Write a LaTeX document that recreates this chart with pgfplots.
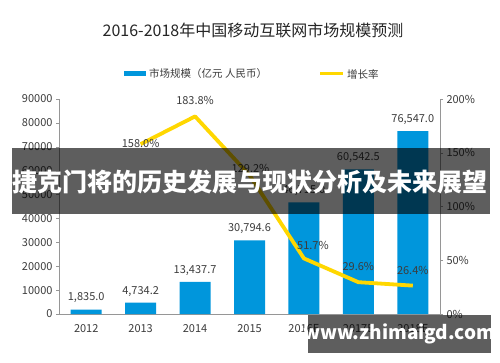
\documentclass[border=0pt]{standalone}
\usepackage{fontspec}
\setmainfont{Noto Sans CJK SC}
\usepackage{pgfplots}
\pgfplotsset{compat=1.18}
\definecolor{barblue}{RGB}{0,150,220}
\definecolor{lineyellow}{RGB}{255,215,0}
\definecolor{axgray}{RGB}{150,150,150}
\definecolor{txt}{RGB}{60,60,60}
\pgfplotsset{/pgf/number format/assume math mode=true}
\begin{document}
\begin{tikzpicture}[x=1pt,y=1pt]
\useasboundingbox (0,0) rectangle (500,362);
\fill[white] (0,0) rectangle (500,362);
% title
\node[text=black!85, font=\fontsize{16}{16}\selectfont] at (253,332) {2016-2018年中国移动互联网市场规模预测};
% legend
\fill[barblue] (124,285.5) rectangle (146,290.5);
\node[anchor=west, text=txt, font=\fontsize{10.5}{10.5}\selectfont, inner sep=0pt] at (149,288) {市场规模（亿元 人民币）};
\draw[lineyellow, line width=3pt] (320,288) -- (343,288);
\node[anchor=west, text=txt, font=\fontsize{10.5}{10.5}\selectfont, inner sep=0pt] at (347,288) {增长率};
\begin{axis}[
  at={(59pt,48pt)}, anchor=south west, scale only axis,
  width=381pt, height=215pt,
  xmin=-0.5, xmax=6.5, ymin=0, ymax=90000,
  axis y line*=left, axis x line*=bottom,
  axis line style={axgray},
  xtick={0,...,6},
  xticklabels={2012,2013,2014,2015,2016E,2017E,2018E},
  xtick style={draw=none},
  ytick={0,10000,...,90000},
  scaled y ticks=false,
  yticklabel style={/pgf/number format/1000 sep={}},
  ytick style={axgray},
  major tick length=3pt, tick align=outside,
  tick label style={text=txt, font=\fontsize{11}{11}\selectfont},
  xticklabel style={yshift=-4pt},
  clip=false,
]
\addplot[ybar, bar width=31pt, fill=barblue, draw=none,
  nodes near coords={\pgfmathprintnumber[fixed,fixed zerofill,precision=1,1000 sep={,}]{\pgfplotspointmeta}},
  nodes near coords style={text=txt, font=\fontsize{11}{11}\selectfont, anchor=south, yshift=3pt}]
coordinates {(0,1835.0) (1,4734.2) (2,13437.7) (3,30794.6) (4,46715.0) (5,60542.5) (6,76547.0)};
\end{axis}
\begin{axis}[
  at={(59pt,48pt)}, anchor=south west, scale only axis,
  width=381pt, height=215pt,
  xmin=-0.5, xmax=6.5, ymin=0, ymax=200,
  axis y line*=right, axis x line=none,
  axis line style={axgray},
  ytick={0,50,...,200},
  yticklabel={\pgfmathprintnumber{\tick}\%},
  ytick style={axgray},
  major tick length=3pt, tick align=outside,
  tick label style={text=txt, font=\fontsize{11}{11}\selectfont},
  clip=false,
]
\addplot[lineyellow, line width=3.8pt, line join=round] coordinates {(1,158.0) (2,183.8) (3,129.2) (4,51.7) (5,29.6) (6,26.4)};
\path[text=txt, font=\fontsize{11}{11}\selectfont]
  (axis cs:1,158.0) node[yshift=1pt] {158.0\%}
  (axis cs:2,183.8) node[yshift=16pt] {183.8\%}
  (axis cs:3,129.2) node[yshift=7pt, xshift=1pt] {129.2\%}
  (axis cs:4,51.7) node[yshift=13pt, xshift=9pt] {51.7\%}
  (axis cs:5,29.6) node[yshift=16pt] {29.6\%}
  (axis cs:6,26.4) node[yshift=15pt] {26.4\%};
\end{axis}
% overlay banner
\fill[black, opacity=0.63] (12,148) rectangle (490,214);
\node[text=white, font=\fontsize{25}{25}\selectfont\bfseries] at (250,180) {捷克门将的历史发展与现状分析及未来展望};
% watermark box
\fill[black, opacity=0.63] (308,9) rectangle (491,47);
\node[text=white, font=\fontsize{19}{19}\selectfont\bfseries] at (399.5,28) {www.zhimaigd.com};
\end{tikzpicture}
\end{document}
